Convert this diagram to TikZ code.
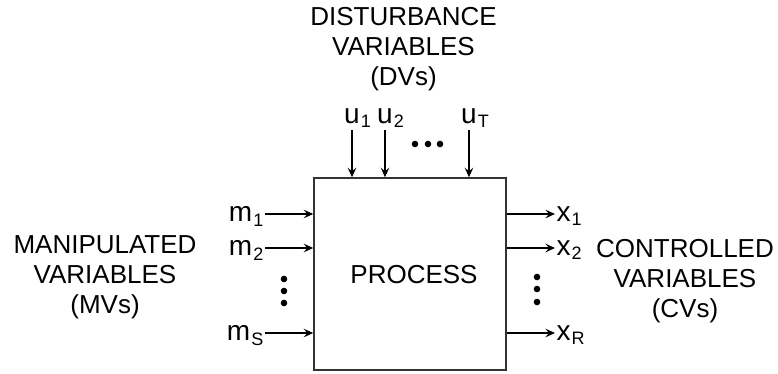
\documentclass[tikz,border=0pt]{standalone}
\usepackage{fontspec}
\setmainfont{Liberation Sans}
\usetikzlibrary{positioning, calc, arrows.meta}
\newcommand{\vsub}[1]{\hspace{1pt}\raisebox{-4.5pt}{\fontsize{18}{18}\selectfont #1}}

\begin{document}
\begin{tikzpicture}[x=1pt, y=-1pt,
    every node/.style={font=\fontsize{26}{30}\selectfont},
    var/.style={font=\fontsize{28}{30}\selectfont, inner xsep=1.5pt, inner ysep=0pt},
    grp/.style={align=center, inner sep=0pt, anchor=north},
    arr/.style={line width=1.3pt, -{Stealth[length=9.5pt, width=8.5pt, inset=3.5pt]}},
    box/.style={draw=black!80, line width=1.5pt, minimum width=192pt, minimum height=192pt, inner sep=0pt, text depth=0pt}]
    \useasboundingbox (0,0) rectangle (778,373);

    % Process block
    \node[box] (proc) at (410,274) {\hspace*{8pt}PROCESS};

    % Manipulated variables (inputs)
    \node[grp] (mv) at (105,235) {MANIPULATED\\VARIABLES\\(MVs)};
    \foreach \y/\s in {214/1, 248/2, 333/S} {
        \node[var, anchor=east, text depth=0pt] (m\s) at (265,\y) {m\vsub{\s}};
        \draw[arr] (m\s.east) -- (m\s.east -| proc.west);
    }
    \foreach \y in {279,291,303} \fill (284,\y) circle (3.3pt);

    % Controlled variables (outputs)
    \node[grp] (cv) at (685,239) {CONTROLLED\\VARIABLES\\(CVs)};
    \foreach \y/\s in {214/1, 248/2, 333/R} {
        \node[var, anchor=west, text depth=0pt] (x\s) at (555,\y) {x\vsub{\s}};
        \draw[arr] (x\s.west -| proc.east) -- (x\s.west);
    }
    \foreach \y in {277,289,302} \fill (537,\y) circle (3.3pt);

    % Disturbance variables
    \node[grp] (dv) at (403.5,7) {DISTURBANCE\\VARIABLES\\(DVs)};
    \foreach \x/\s in {352/1, 385/2, 469/T} {
        \coordinate (u\s top) at (\x,130);
        \node[var, anchor=south west, inner xsep=0pt] (u\s) at ($(u\s top)+(-8,-2)$) {u\vsub{\s}};
        \draw[arr] (u\s top) -- (u\s top |- proc.north);
    }
    \foreach \x in {415,428,440} \fill (\x,144) circle (3.3pt);
\end{tikzpicture}
\end{document}
